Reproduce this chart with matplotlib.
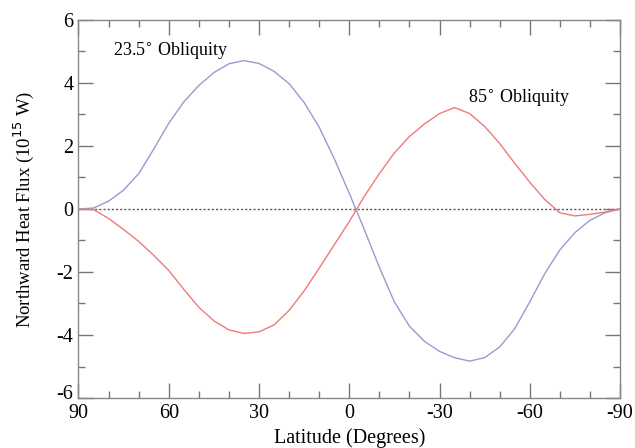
import numpy as np
import matplotlib
matplotlib.use("Agg")
import matplotlib.pyplot as plt
from matplotlib.ticker import MultipleLocator
from matplotlib.transforms import ScaledTranslation

plt.rcParams["font.family"] = ["Liberation Serif", "DejaVu Serif"]
plt.rcParams["axes.unicode_minus"] = False

# latitude (degrees) and northward heat flux (1e15 W)
latitude = [90, 85, 80, 75, 70, 65, 60, 55, 50, 45, 40, 35, 30, 25, 20, 15, 10, 5, 0,
            -5, -10, -15, -20, -25, -30, -35, -40, -45, -50, -55, -60, -65, -70, -75,
            -80, -85, -90]
flux_23 = [0, 0.03, 0.25, 0.6, 1.12, 1.9, 2.72, 3.4, 3.92, 4.33, 4.61, 4.71, 4.62, 4.37,
           3.98, 3.38, 2.6, 1.6, 0.5, -0.65, -1.85, -2.95, -3.72, -4.2, -4.52, -4.72,
           -4.83, -4.72, -4.38, -3.8, -2.95, -2.05, -1.3, -0.75, -0.36, -0.12, 0]
flux_85 = [0, -0.02, -0.3, -0.65, -1.03, -1.47, -1.95, -2.55, -3.12, -3.55, -3.84, -3.95,
           -3.9, -3.68, -3.22, -2.6, -1.88, -1.14, -0.4, 0.4, 1.12, 1.78, 2.3, 2.7,
           3.03, 3.22, 3.03, 2.62, 2.08, 1.45, 0.85, 0.3, -0.12, -0.22, -0.17, -0.1, 0]

x_ticks = [90, 60, 30, 0, -30, -60, -90]
y_ticks = [-6, -4, -2, 0, 2, 4, 6]

fig = plt.figure(figsize=(6.35, 4.48), dpi=100)
ax = fig.add_axes([0.1236, 0.1116, 0.8528, 0.8438])

ax.axhline(0, color="#555555", lw=1, ls=(0, (1.5, 1.5)), zorder=1)
ax.plot(latitude, flux_23, color="#9a9ad0", lw=1.0, zorder=2)
ax.plot(latitude, flux_85, color="#f07a7a", lw=1.0, zorder=3)

ax.set_xlim(90, -90)
ax.set_ylim(-6, 6)
ax.set_xticks(x_ticks)
ax.set_xticklabels([str(t) for t in x_ticks])
ax.set_yticks(y_ticks)
ax.set_yticklabels([str(t) for t in y_ticks])
ax.xaxis.set_minor_locator(MultipleLocator(10))
ax.yaxis.set_minor_locator(MultipleLocator(1))

ax.tick_params(which="both", direction="in", top=True, right=True, colors="#777777",
               labelcolor="black", labelsize=14.5)
ax.tick_params(axis="x", which="both", pad=4)
ax.tick_params(which="major", length=11, width=1)
ax.tick_params(which="minor", length=5, width=1)
for s in ax.spines.values():
    s.set_color("#888888")
    s.set_linewidth(1)

# nudge the bottom "-6" up a little so it does not sit on top of "90"
lab = ax.get_yticklabels()[0]
lab.set_transform(lab.get_transform() + ScaledTranslation(0, 4 / 72, fig.dpi_scale_trans))

ax.text(78.5, 5.0, "23.5$^{\\circ}$ Obliquity", fontsize=13, ha="left", va="center")
ax.text(-39.6, 3.5, "85$^{\\circ}$ Obliquity", fontsize=13, ha="left", va="center")

ax.set_xlabel("Latitude (Degrees)", fontsize=14.5, labelpad=4)
ax.set_ylabel("Northward Heat Flux (10$^{15}$ W)", fontsize=13.5, labelpad=15)

fig.savefig("out.png", dpi=100)
